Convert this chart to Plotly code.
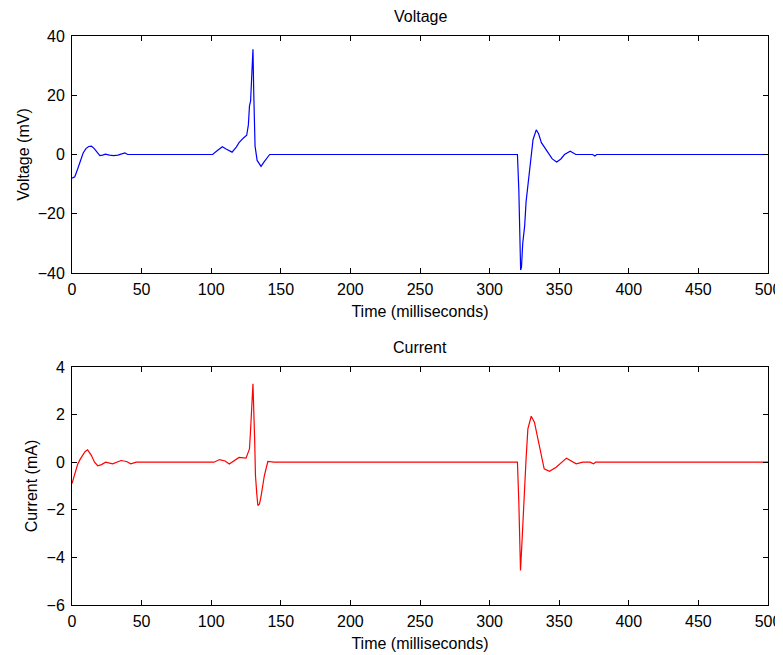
import plotly.graph_objects as go

# Voltage trace (ms, mV)
t_v = [0, 2, 4, 6, 8, 10, 12, 14, 16, 18, 20, 22, 24, 27, 30, 33, 36, 38, 40,
       101, 104, 108, 111, 115, 118, 120, 123, 125.5, 126.7, 127.5, 128.3, 129.2,
       130.0, 130.6, 131.5, 133, 135.8, 138, 142,
       320, 321.0, 322.3, 322.9, 323.8, 325.2, 326.2, 327.7, 329.2, 331.2, 333.5,
       335.2, 337.2, 341.8, 345, 348.2, 351.2, 353.8, 357.9, 362, 374, 375.6, 377, 500]
v = [-8, -7.5, -5, -2, 0.5, 2, 2.7, 2.8, 2, 0.8, -0.4, -0.2, 0.1, -0.2, -0.4, -0.2, 0.3, 0.5, 0,
     0, 1.2, 2.6, 1.8, 0.8, 2.5, 4, 5.5, 6.5, 10, 16.4, 18, 26,
     35.5, 20, 2.8, -2, -4, -2.5, 0,
     0, -12, -39, -38, -30, -24, -16, -10, -5, 5, 8.3,
     7, 4, 0.6, -1.5, -2.5, -1.5, 0, 1.1, 0, 0, -0.5, 0, 0]

# Current trace (ms, mA)
t_c = [0, 2, 4, 6, 8, 9.5, 11.2, 13.8, 16.2, 18.5, 21.2, 24.2, 29.2, 35.2, 39.2, 42.2, 46.2,
       102, 106, 110, 113, 117, 120, 125, 127.5, 128.2, 129.2, 130.0, 131.2, 131.8,
       132.7, 133.5, 134.7, 135.9, 138.2, 140.7, 145,
       320, 321.0, 322.2, 323.4, 325.1, 326.2, 327.5, 329.9, 332.2, 335.8, 339.2,
       343.0, 347.8, 355.2, 362.2, 367, 372.2, 374.6, 376.2, 500]
i_c = [-0.9, -0.5, -0.1, 0.14, 0.35, 0.45, 0.52, 0.3, 0.0, -0.15, -0.1, 0, -0.07, 0.07, 0.03, -0.07, 0,
       0, 0.11, 0.05, -0.08, 0.1, 0.2, 0.17, 0.56, 1.26, 2.24, 3.3, 1.0, -0.56,
       -1.3, -1.82, -1.75, -1.4, -0.56, 0.03, 0,
       0, -1.68, -4.55, -3.2, -0.77, 0.14, 1.4, 1.93, 1.68, 0.7, -0.28,
       -0.38, -0.21, 0.17, -0.07, 0, 0, -0.07, 0, 0]

x_ticks = [0, 50, 100, 150, 200, 250, 300, 350, 400, 450, 500]
v_ticks = [-40, -20, 0, 20, 40]
i_ticks = [-6, -4, -2, 0, 2, 4]

FONT = "Liberation Sans, Arial, sans-serif"
FS = 16
OFF = 8  # page body margin
W, H = 783 - OFF, 655 - OFF
ML, MR, MT, MB = 72 - OFF, 15, 36 - OFF, 50
PW, PH = W - ML - MR, H - MT - MB
top1, bot1 = 36 - OFF, 273 - OFF
top2, bot2 = 367 - OFF, 605 - OFF


def py(px):
    return 1 - (px - MT) / PH


fig = go.Figure()
fig.add_trace(go.Scatter(x=t_v, y=v, mode="lines", line=dict(color="#0000FF", width=1.2),
                         xaxis="x", yaxis="y", showlegend=False))
fig.add_trace(go.Scatter(x=t_c, y=i_c, mode="lines", line=dict(color="#FF0000", width=1.2),
                         xaxis="x2", yaxis="y2", showlegend=False))

axis_common = dict(showline=True, linecolor="black", linewidth=1, mirror="ticks",
                   ticks="inside", ticklen=5, tickcolor="black", showgrid=False,
                   zeroline=False, automargin=False,
                   tickfont=dict(family=FONT, size=FS, color="black"),
                   title_font=dict(family=FONT, size=FS, color="black"))

fig.update_layout(
    width=W, height=H, margin=dict(l=ML, r=MR, t=MT, b=MB, autoexpand=False),
    paper_bgcolor="white", plot_bgcolor="white",
    xaxis=dict(domain=[0, 1], range=[0, 500], tickvals=x_ticks, anchor="y", ticklabelstandoff=2,
               title=dict(text="Time (milliseconds)", standoff=8), **axis_common),
    yaxis=dict(domain=[py(bot1), py(top1)], range=[-40, 40], tickvals=v_ticks, ticklabelstandoff=3,
               anchor="x", title=dict(text="Voltage (mV)", standoff=4), **axis_common),
    xaxis2=dict(domain=[0, 1], range=[0, 500], tickvals=x_ticks, anchor="y2", ticklabelstandoff=2,
                title=dict(text="Time (milliseconds)", standoff=8), **axis_common),
    yaxis2=dict(domain=[py(bot2), py(top2)], range=[-6, 4], tickvals=i_ticks, ticklabelstandoff=3,
                anchor="x2", title=dict(text="Current (mA)", standoff=4), **axis_common),
    annotations=[
        dict(text="Voltage", x=0.5, y=py(17 - OFF), xref="paper", yref="paper",
             yanchor="middle", showarrow=False, font=dict(family=FONT, size=FS, color="black")),
        dict(text="Current", x=0.5, y=py(347 - OFF), xref="paper", yref="paper",
             yanchor="middle", showarrow=False, font=dict(family=FONT, size=FS, color="black")),
    ],
)

fig.write_html("out.html")
